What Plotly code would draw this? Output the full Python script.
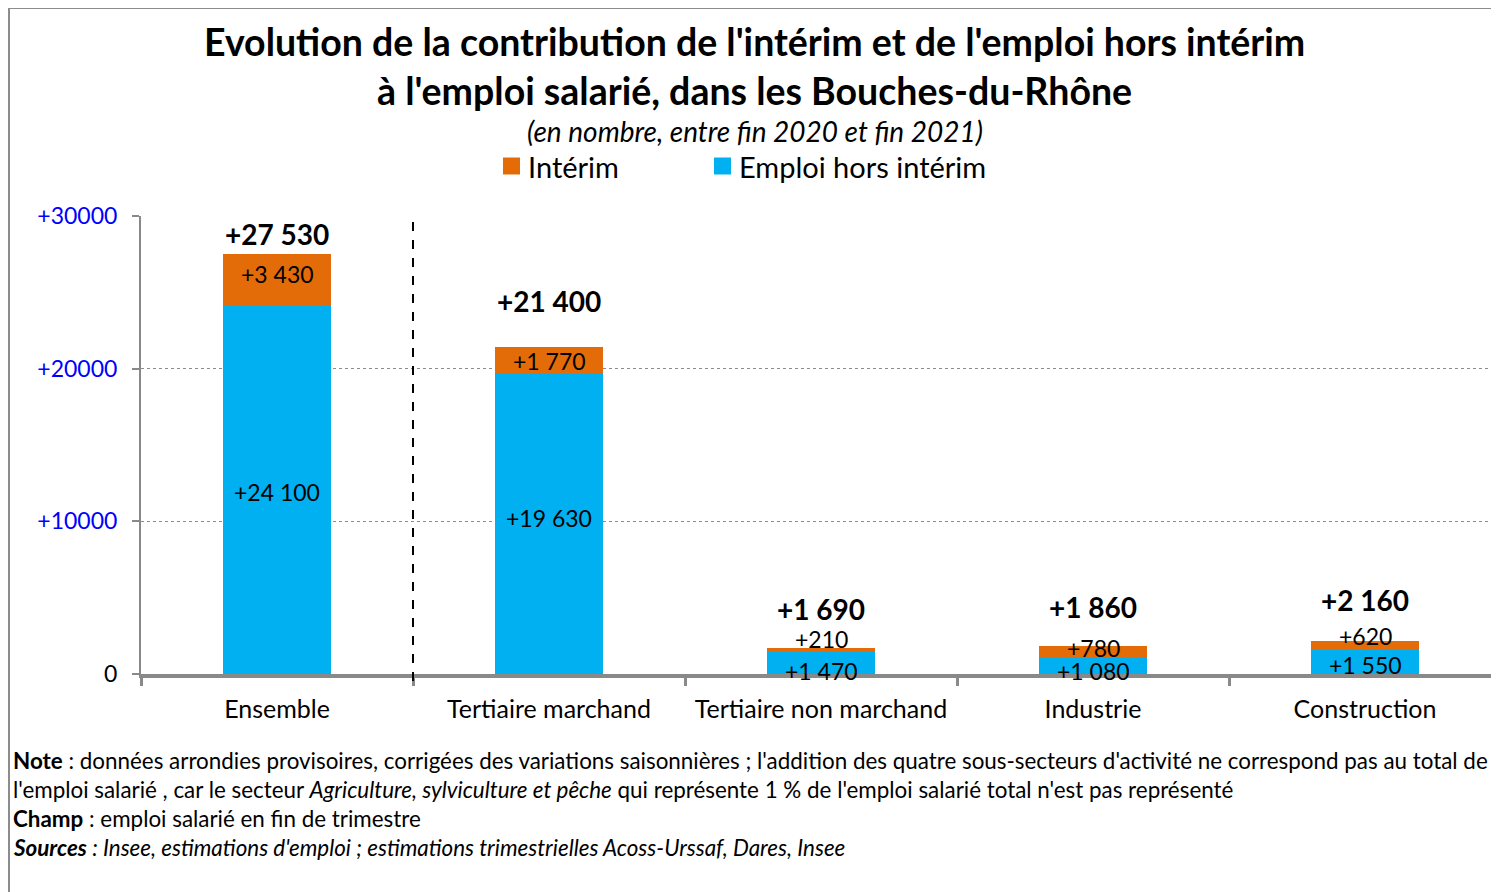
import plotly.graph_objects as go

categories = ["Ensemble", "Tertiaire marchand", "Tertiaire non marchand", "Industrie", "Construction"]
emploi_hors_interim = [24100, 19630, 1470, 1080, 1550]
interim = [3430, 1770, 210, 780, 620]
totals = [27530, 21400, 1690, 1860, 2160]
y_ticks = [0, 10000, 20000, 30000]
series_names = ["Intérim", "Emploi hors intérim"]

FONT = "Lato"
ORANGE = "#E36C09"
BLUE = "#00B0F0"

OFF = 8  # page body margin
W, H = 1499 - OFF, 892 - OFF
ML, MR, MT, MB = 141 - OFF, 0, 216 - OFF, 892 - 674
PW, PH = W - ML - MR, H - MT - MB


def fmt(v):
    return "+" + f"{v:,}".replace(",", " ")


def px_x(p):  # page pixel -> paper x
    return (p - OFF - ML) / PW


def px_y(p):  # page pixel -> paper y
    return (H - MB - (p - OFF)) / PH


fig = go.Figure()
fig.add_trace(go.Bar(x=categories, y=emploi_hors_interim, name=series_names[1],
                     marker=dict(color=BLUE, line=dict(width=0)), width=0.4, hoverinfo="skip"))
fig.add_trace(go.Bar(x=categories, y=interim, name=series_names[0],
                     marker=dict(color=ORANGE, line=dict(width=0)), width=0.4, hoverinfo="skip"))

ann = []
blue_shift = [-2, 6, -8, -5, -3]
orange_shift = [6, 0, 11, 4, 10]
total_shift = [20, 46, 39, 39, 41]
for i, c in enumerate(categories):
    b = emploi_hors_interim[i]
    o = interim[i]
    ann.append(dict(x=c, y=b / 2, text=fmt(b), showarrow=False, yshift=blue_shift[i],
                    font=dict(family=FONT, size=23, color="black")))
    ann.append(dict(x=c, y=b + o / 2, text=fmt(o), showarrow=False, yshift=orange_shift[i],
                    font=dict(family=FONT, size=23, color="black")))
    ann.append(dict(x=c, y=b + o, text="<b>" + fmt(totals[i]) + "</b>", showarrow=False,
                    yshift=total_shift[i], font=dict(family=FONT, size=28, color="black")))

# Title and subtitle
ann.append(dict(xref="paper", yref="paper", x=px_x(754), y=px_y(66), xanchor="center", yanchor="middle",
                text="<b>Evolution de la contribution de l'intérim et de l'emploi hors intérim<br>à l'emploi salarié, dans les Bouches-du-Rhône</b>",
                showarrow=False, font=dict(family=FONT, size=37.5, color="black")))
ann.append(dict(xref="paper", yref="paper", x=px_x(755), y=px_y(131), xanchor="center", yanchor="middle",
                text="<i>(en nombre, entre fin 2020 et fin 2021)</i>", showarrow=False,
                font=dict(family=FONT, size=28, color="black")))

# Legend (drawn manually to match square size and spacing)
legend_colors = [ORANGE, BLUE]
legend_sq_left = [503, 714]
shapes = []
for name, col, xl in zip(series_names, legend_colors, legend_sq_left):
    shapes.append(dict(type="rect", xref="paper", yref="paper", x0=px_x(xl), x1=px_x(xl + 17),
                       y0=px_y(174.5), y1=px_y(157.5), fillcolor=col, line=dict(width=0)))
    ann.append(dict(xref="paper", yref="paper", x=px_x(xl + 23), y=px_y(166), xanchor="left",
                    yanchor="middle", text=name, showarrow=False,
                    font=dict(family=FONT, size=29, color="black")))

notes = [
    "<b>Note</b> : données arrondies provisoires, corrigées des variations saisonnières ; l'addition des quatre sous-secteurs d'activité ne correspond pas au total de",
    "l'emploi salarié , car le secteur <i>Agriculture, sylviculture et pêche</i> qui représente 1 % de l'emploi salarié total n'est pas représenté",
    "<b>Champ</b> : emploi salarié en fin de trimestre",
    "<b><i>Sources</i></b><i> : Insee, estimations d'emploi ; estimations trimestrielles Acoss-Urssaf, Dares, Insee</i>",
]
for k, t in enumerate(notes):
    ann.append(dict(xref="paper", yref="paper", x=px_x(11), y=px_y(760 + 29 * k), xanchor="left",
                    yanchor="middle", text=t, showarrow=False, align="left",
                    font=dict(family=FONT, size=22.4, color="black")))

shapes += [
    dict(type="line", xref="x", yref="paper", x0=0.5, x1=0.5, y0=px_y(681), y1=px_y(222),
         line=dict(color="black", width=2, dash="dash")),
    dict(type="rect", xref="paper", yref="paper", x0=px_x(OFF + 1), x1=px_x(1560), y0=px_y(960), y1=px_y(OFF),
         line=dict(color="#8C8C8C", width=2), fillcolor="rgba(0,0,0,0)", layer="below"),
]

tick_text = ["0"] + ["<span style='color:#0000FF'>+" + str(v) + "</span>" for v in y_ticks[1:]]

fig.update_layout(
    width=W, height=H,
    margin=dict(l=ML, r=MR, t=MT, b=MB, pad=0),
    paper_bgcolor="white", plot_bgcolor="white",
    barmode="stack", bargap=0.6,
    font=dict(family=FONT, size=22, color="black"),
    showlegend=False,
    annotations=ann,
    shapes=shapes,
    xaxis=dict(
        range=[-0.5, -0.5 + PW / 272], type="category",
        showline=True, linecolor="#898989", linewidth=4,
        tickson="boundaries", ticks="outside", ticklen=8, tickwidth=3, tickcolor="#898989",
        tickfont=dict(family=FONT, size=25, color="black"), ticklabelstandoff=10,
        showgrid=False, fixedrange=True,
    ),
    yaxis=dict(
        range=[0, 30000], tickvals=y_ticks, ticktext=tick_text,
        showline=True, linecolor="#898989", linewidth=2,
        ticks="outside", ticklen=7, tickwidth=2, tickcolor="#898989",
        tickfont=dict(family=FONT, size=23, color="black"),
        showgrid=True, gridcolor="#8C8C8C", gridwidth=1, griddash="dot",
        zeroline=False, fixedrange=True, ticklabelstandoff=10,
    ),
)

fig.write_html("out.html")
